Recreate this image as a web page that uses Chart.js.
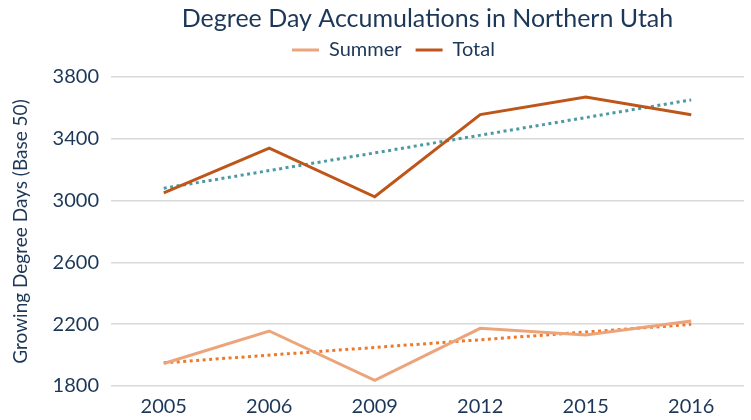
<!DOCTYPE html>
<html lang="en">
<head>
  <meta charset="UTF-8" />
  <title>Degree Day Accumulations in Northern Utah</title>
  <script src="https://cdn.jsdelivr.net/npm/chart.js"></script>
  <style>
    body {
      margin: 0;
      padding: 0;
      background-color: #fff;
    }
    .chart-box {
      position: relative;
      width: 751px;
      height: 420px;
    }
  </style>
</head>
<body>
  <div class="chart-box">
    <canvas id="gddChart"></canvas>
  </div>

  <script>
    // Data
    const years = ['2005', '2006', '2009', '2012', '2015', '2016'];
    const summerGdd = [1946, 2156, 1837, 2173, 2130, 2221];
    const totalGdd = [3050, 3340, 3025, 3557, 3670, 3555];
    // Linear trendlines, end points (middle left open)
    const summerTrend = [1950, null, null, null, null, 2199];
    const totalTrend = [3080, null, null, null, null, 3652];
    const yTicks = [1800, 2200, 2600, 3000, 3400, 3800];

    const navy = '#1c3758';
    const fontFamily = 'Lato, "Noto Sans", sans-serif';

    // small tweak: legend sits a bit higher and right of the default spot
    const legendTweak = {
      id: 'legendTweak',
      beforeLayout(chart) {
        const lg = chart.legend;
        if (lg && !lg._patched) {
          const fit = lg.fit;
          lg.fit = function () {
            fit.call(this);
            this.height -= 3;
          };
          lg._patched = true;
        }
      },
      afterLayout(chart) {
        if (chart.legend) {
          chart.legend.left += 34;
          chart.legend.top -= 10;
        }
      }
    };

    const ctx = document.getElementById('gddChart').getContext('2d');
    new Chart(ctx, {
      type: 'line',
      data: {
        labels: years,
        datasets: [
          {
            label: 'Summer',
            data: summerGdd,
            borderColor: '#eca57a',
            backgroundColor: '#eca57a',
            borderWidth: 3,
            pointRadius: 0,
            tension: 0
          },
          {
            label: 'Total',
            data: totalGdd,
            borderColor: '#bf5619',
            backgroundColor: '#bf5619',
            borderWidth: 3,
            pointRadius: 0,
            tension: 0
          },
          {
            label: 'trendSummer',
            data: summerTrend,
            borderColor: '#f0782a',
            borderWidth: 3,
            borderDash: [3, 3.5],
            pointRadius: 0,
            spanGaps: true
          },
          {
            label: 'trendTotal',
            data: totalTrend,
            borderColor: '#4b9aa4',
            borderWidth: 3,
            borderDash: [3, 3.5],
            pointRadius: 0,
            spanGaps: true
          }
        ]
      },
      options: {
        responsive: true,
        maintainAspectRatio: false,
        animation: false,
        layout: { padding: { left: 9, right: 7, top: 0, bottom: 0 } },
        plugins: {
          title: {
            display: true,
            text: 'Degree Day Accumulations in Northern Utah',
            color: navy,
            fullSize: false,
            font: { family: fontFamily, size: 25, weight: 'normal' },
            padding: { top: 4, bottom: 2 }
          },
          legend: {
            display: true,
            position: 'top',
            labels: {
              color: navy,
              font: { family: fontFamily, size: 20 },
              boxWidth: 27,
              boxHeight: 3,
              padding: 14,
              generateLabels: function (chart) {
                return Chart.defaults.plugins.legend.labels.generateLabels(chart)
                  .filter(function (item) { return item.datasetIndex < 2; })
                  .map(function (item) { item.lineWidth = 0; return item; });
              }
            }
          },
          tooltip: { enabled: false }
        },
        scales: {
          x: {
            offset: true,
            grid: { display: false },
            border: { display: false },
            afterFit: function (scale) { scale.height = 34; },
            ticks: {
              color: navy,
              font: { family: fontFamily, size: 20 },
              padding: 1
            }
          },
          y: {
            min: 1800,
            max: 3800,
            afterBuildTicks: function (scale) {
              scale.ticks = yTicks.map(function (v) { return { value: v }; });
            },
            afterFit: function (scale) { scale.width = 102; },
            grid: { color: '#d9d9d9', lineWidth: 1.5, drawTicks: false },
            border: { display: false },
            ticks: {
              color: navy,
              font: { family: fontFamily, size: 20 },
              padding: 12,
              callback: function (value) { return String(value); }
            },
            title: {
              display: true,
              text: 'Growing Degree Days (Base 50)',
              color: navy,
              font: { family: fontFamily, size: 19 },
              padding: { top: 0, bottom: 0 }
            }
          }
        }
      },
      plugins: [legendTweak]
    });
  </script>
</body>
</html>
